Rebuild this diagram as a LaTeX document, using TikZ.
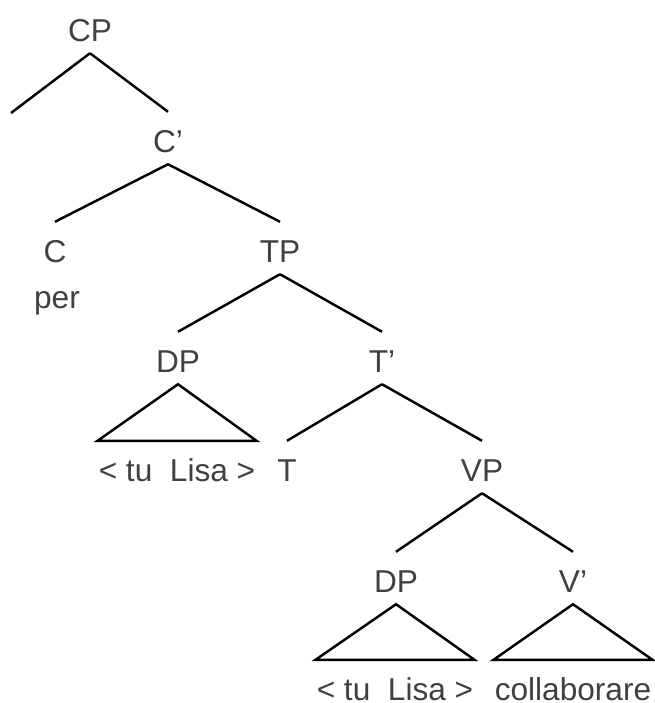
\documentclass[tikz,border=0pt]{standalone}
\usepackage{fontspec}
\setmainfont{Liberation Sans}
\usepackage{tikz}
\definecolor{txtGris}{RGB}{64,64,64}

\begin{document}
\begin{tikzpicture}[x=0.02cm, y=-0.02cm, line width=1.4pt,
  cat/.style={anchor=base, inner sep=0pt, text height=0.78cm, text depth=0.22cm,
              text=txtGris, font=\fontsize{18}{22}\selectfont},
  leaf/.style={cat, text depth=0pt}]

\useasboundingbox (0,0) rectangle (654,703);

\node[cat] (cp) at (90,41) {CP};
\coordinate (spec) at (11,113);
\node[cat] (cbar) at (168,152) {C'};
\node[cat] (c) at (55,262) {C};
\node[cat] (per) at (57,308) {per};
\node[cat] (tp) at (280,262) {TP};
\node[cat] (dp) at (178,372) {DP};
\node[cat] (tbar) at (382,372) {T'};
\node[leaf] (tulisa) at (177,481) {<\ tu\ \ Lisa\ >};
\node[cat] (t) at (287,481) {T};
\node[cat] (vp) at (482,481) {VP};
\node[cat] (dpv) at (396,592) {DP};
\node[cat] (vbar) at (573,592) {V'};
\node[leaf] (tulisav) at (395,700) {<\ tu\ \ Lisa\ >};
\node[leaf] (collab) at (573,700) {collaborare};

\draw (cp.south) -- (spec);
\draw (cp.south) -- (cbar.north);
\draw (cbar.south) -- (c.north);
\draw (cbar.south) -- (tp.north);
\draw (tp.south) -- (dp.north);
\draw (tp.south) -- (tbar.north);
\draw (tbar.south) -- (t.north);
\draw (tbar.south) -- (vp.north);
\draw (vp.south) -- (dpv.north);
\draw (vp.south) -- (vbar.north);

\draw (dp.south) -- (tulisa.north west) -- (tulisa.north east) -- cycle;
\draw (dpv.south) -- (tulisav.north west) -- (tulisav.north east) -- cycle;
\draw (vbar.south) -- (collab.north west) -- (collab.north east) -- cycle;

\end{tikzpicture}
\end{document}
